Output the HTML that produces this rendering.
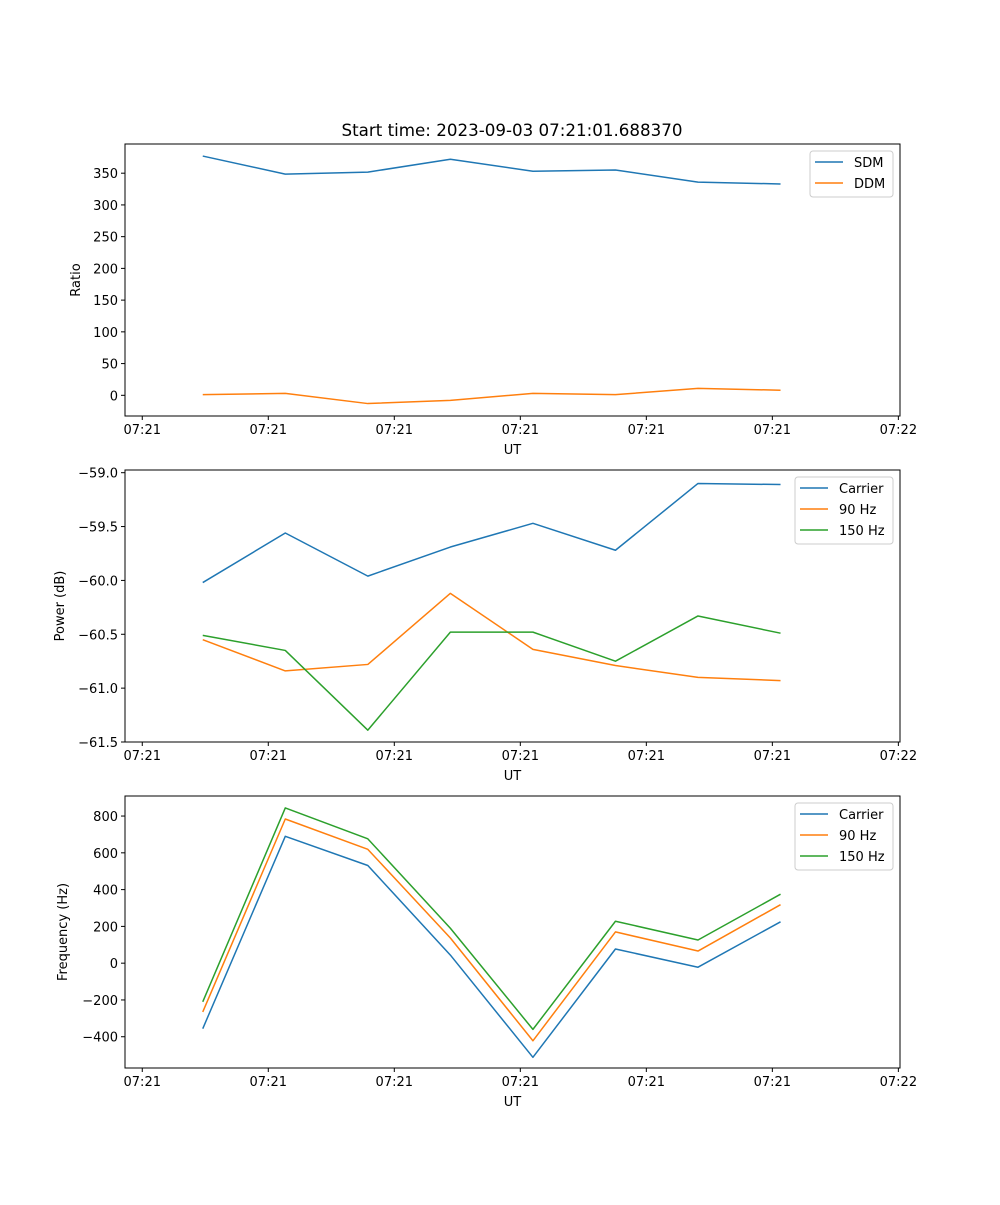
<!DOCTYPE html>
<html><head><meta charset="utf-8"><style>
body{margin:0;background:#fff}
svg text{font-family:"DejaVu Sans","Liberation Sans",sans-serif;fill:#000}
</style></head><body>
<svg id="fig" width="1000" height="1200" xmlns="http://www.w3.org/2000/svg">
<rect width="1000" height="1200" fill="#fff"/>
<text x="512" y="136" font-size="16.7" text-anchor="middle">Start time: 2023-09-03 07:21:01.688370</text>
</svg>
<script>
const xTicks=[0,1,2,3,4,5,6];
const xTickLabels=["07:21","07:21","07:21","07:21","07:21","07:21","07:22"];
const times=[0.48,1.135,1.79,2.445,3.10,3.755,4.41,5.065];
const sdm=[377,348.6,351.7,372,353,355,336,333];
const ddm=[1,3,-13,-8,3,1,11,8];
const pCarrier=[-60.02,-59.56,-59.96,-59.69,-59.47,-59.72,-59.10,-59.11];
const p90=[-60.55,-60.84,-60.78,-60.12,-60.64,-60.79,-60.90,-60.93];
const p150=[-60.51,-60.65,-61.39,-60.48,-60.48,-60.75,-60.33,-60.49];
const fCarrier=[-356,690,531,44,-512,77,-22,225];
const f90=[-265,784,619,137,-422,170,66,318];
const f150=[-210,844,676,190,-360,228,126,375];
const yTicks1=[0,50,100,150,200,250,300,350];
const yTicks2=[-61.5,-61.0,-60.5,-60.0,-59.5,-59.0];
const yTicks3=[-400,-200,0,200,400,600,800];

const NS="http://www.w3.org/2000/svg";
const svg=document.getElementById('fig');
const C=['#1f77b4','#ff7f0e','#2ca02c'];
function mk(tag,attrs,parent){const e=document.createElementNS(NS,tag);for(const k in attrs)e.setAttribute(k,attrs[k]);(parent||svg).appendChild(e);return e;}

function panel(o){
  const L=125,R=900,T=o.top,B=o.top+272;
  const xmin=-0.137,xmax=6.013;
  const sx=v=>L+(v-xmin)/(xmax-xmin)*(R-L);
  const sy=v=>B-(v-o.ymin)/(o.ymax-o.ymin)*(B-T);
  const g=mk('g',{});
  
  
  o.series.forEach((s,i)=>{
    const pl=mk('polyline',{points:s.vals.map((v,j)=>sx(times[j])+','+sy(v)).join(' '),fill:'none',stroke:C[i],'stroke-width':1.5,'stroke-linejoin':'round'},g);
    
    
  });
  const fr=mk('rect',{x:L,y:T,width:R-L,height:B-T,fill:'none',stroke:'#000','stroke-width':1},g);
  
  
  xTicks.forEach((t,i)=>{
    const x=sx(t);
    mk('line',{x1:x,x2:x,y1:B,y2:B+4,stroke:'#000'},g);
    const tx=mk('text',{x:x,y:B+18,'font-size':13,'text-anchor':'middle'},g);
    tx.textContent=xTickLabels[i];
    
    
  });
  o.yticks.forEach(t=>{
    const y=sy(t);
    mk('line',{x1:L-4,x2:L,y1:y,y2:y,stroke:'#000'},g);
    const tx=mk('text',{x:L-7,y:y+5,'font-size':13,'text-anchor':'end'},g);
    tx.textContent=(t<0?'\u2212':'')+(o.dec?Math.abs(t).toFixed(1):Math.abs(t));
    
    
  });
  const xl=mk('text',{x:(L+R)/2,y:B+38,'font-size':13,'text-anchor':'middle'},g);
  xl.textContent='UT';
  
  
  const yl=mk('text',{x:0,y:0,'font-size':13,'text-anchor':'middle',transform:`translate(${o.ylx},${(T+B)/2}) rotate(-90)`},g);
  yl.textContent=o.ylabel;
  
  
  const lg=mk('g',{},g);
  
  
  const n=o.series.length;
  mk('rect',{x:o.lgx,y:T+7,width:R-7-o.lgx,height:4+n*21,rx:3,fill:'#fff',stroke:'#ccc','fill-opacity':0.8},lg);
  o.series.forEach((s,i)=>{
    const y=T+18+i*21;
    mk('line',{x1:o.lgx+5,x2:o.lgx+33,y1:y,y2:y,stroke:C[i],'stroke-width':1.5},lg);
    const t=mk('text',{x:o.lgx+44,y:y+5,'font-size':13},lg);
    t.textContent=s.label;
    
    
  });
}
panel({name:'ratio-panel',top:144,ymin:-32.6,ymax:396,yticks:yTicks1,ylabel:'Ratio',ylx:80,lgx:810,
  series:[{key:'sdm',label:'SDM',vals:sdm},{key:'ddm',label:'DDM',vals:ddm}]});
panel({name:'power-panel',top:470,ymin:-61.5,ymax:-58.975,yticks:yTicks2,dec:true,ylabel:'Power (dB)',ylx:64,lgx:795,
  series:[{key:'carrier',label:'Carrier',vals:pCarrier},{key:'90hz',label:'90 Hz',vals:p90},{key:'150hz',label:'150 Hz',vals:p150}]});
panel({name:'frequency-panel',top:796,ymin:-570,ymax:909,yticks:yTicks3,ylabel:'Frequency (Hz)',ylx:67,lgx:795,
  series:[{key:'carrier',label:'Carrier',vals:fCarrier},{key:'90hz',label:'90 Hz',vals:f90},{key:'150hz',label:'150 Hz',vals:f150}]});
</script>
</body></html>
